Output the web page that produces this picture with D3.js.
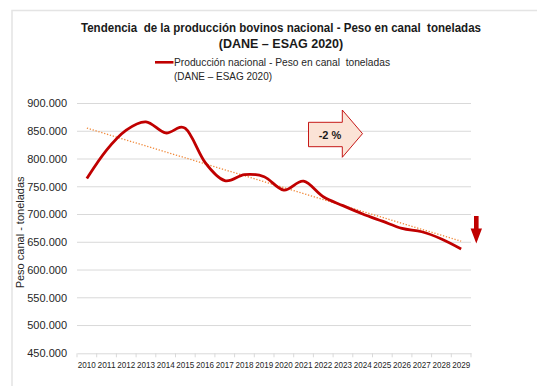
<!DOCTYPE html>
<html>
<head>
<meta charset="utf-8">
<script src="https://cdn.jsdelivr.net/npm/d3@7"></script>
<style>
  html, body { margin: 0; padding: 0; background: #fff; }
  svg { display: block; font-family: "Liberation Sans", Arial, sans-serif; }
  text { white-space: pre; }
</style>
</head>
<body>
<svg id="chart" width="537" height="386"></svg>
<script>
// Producción nacional de bovinos – peso en canal (toneladas)
const years = ["2010","2011","2012","2013","2014","2015","2016","2017","2018","2019",
               "2020","2021","2022","2023","2024","2025","2026","2027","2028","2029"];
const produccion = [765000, 816000, 852000, 867000, 847000, 855000, 794000, 761000, 772000, 768000,
                    744000, 760000, 732000, 716000, 701000, 688000, 675000, 669000, 656000, 638000];
const yTicks = [450000, 500000, 550000, 600000, 650000, 700000, 750000, 800000, 850000, 900000];
const titleLines = ["Tendencia  de la producción bovinos nacional - Peso en canal  toneladas",
                    "(DANE – ESAG 2020)"];
const legendLines = ["Producción nacional - Peso en canal  toneladas", "(DANE – ESAG 2020)"];
const yAxisTitle = "Peso canal - toneladas";
const variacion = "-2 %";

const svg = d3.select("#chart");
const margin = { left: 77, right: 471, top: 103.5, bottom: 353.3 };

const fmtTick = v => (v / 1000).toFixed(3).replace(/\B(?=(\d{3})+(?!\d))/g, ".");

const x = d3.scaleBand().domain(years).range([margin.left, margin.right]);
const y = d3.scaleLinear().domain([450000, 900000]).range([margin.bottom, margin.top]);

// Outer frame (top and left edges)
svg.append("path")
  .attr("d", "M12,386 L12,10.5 L537,10.5")
  .attr("fill", "none").attr("stroke", "#e4e4e4").attr("stroke-width", 1.5);

// Horizontal gridlines
svg.append("g").selectAll("line").data(yTicks.filter(t => t > 450000)).join("line")
  .attr("x1", margin.left).attr("x2", margin.right)
  .attr("y1", d => y(d)).attr("y2", d => y(d))
  .attr("stroke", "#d9d9d9").attr("stroke-width", 1);

// Y tick labels
svg.append("g").selectAll("text").data(yTicks).join("text")
  .attr("x", 67).attr("y", d => y(d)).attr("dy", "0.35em")
  .attr("text-anchor", "end").attr("font-size", 11).attr("fill", "#262626")
  .text(d => fmtTick(d));

// X axis: baseline, ticks between categories, labels
const xAxis = svg.append("g").attr("transform", `translate(0,${margin.bottom})`)
  .call(d3.axisBottom(x).tickSize(0).tickPadding(8));
xAxis.select(".domain").attr("stroke", "#d9d9d9");
xAxis.selectAll("text").attr("font-size", 9.5).attr("fill", "#262626")
  .attr("font-family", "'Liberation Sans', Arial, sans-serif")
  .attr("textLength", 18).attr("lengthAdjust", "spacingAndGlyphs");
const bounds = years.map(d => x(d)).concat([margin.right]);
svg.append("g").selectAll("line").data(bounds).join("line")
  .attr("x1", d => d).attr("x2", d => d)
  .attr("y1", margin.bottom).attr("y2", margin.bottom + 4)
  .attr("stroke", "#d9d9d9");

// Y axis title
svg.append("text")
  .attr("transform", `translate(24,${(margin.top + margin.bottom) / 2 + 4}) rotate(-90)`)
  .attr("text-anchor", "middle").attr("font-size", 11).attr("fill", "#262626")
  .text(yAxisTitle);

// Linear trendline (least squares over the series)
const idx = produccion.map((_, i) => i);
const mx = d3.mean(idx), my = d3.mean(produccion);
const slope = d3.sum(idx, i => (i - mx) * (produccion[i] - my)) / d3.sum(idx, i => (i - mx) ** 2);
const intercept = my - slope * mx;
const cx = i => x(years[i]) + x.bandwidth() / 2;
svg.append("line")
  .attr("x1", cx(0)).attr("y1", y(intercept))
  .attr("x2", cx(years.length - 1)).attr("y2", y(intercept + slope * (years.length - 1)))
  .attr("stroke", "#f08a3c").attr("stroke-width", 1.3).attr("stroke-dasharray", "1.3 1.7");

// Production series, smoothed
const line = d3.line()
  .x((d, i) => cx(i))
  .y(d => y(d))
  .curve(d3.curveCardinal.tension(0));
svg.append("path").datum(produccion)
  .attr("d", line)
  .attr("fill", "none").attr("stroke", "#c00000").attr("stroke-width", 2.8)
  .attr("stroke-linejoin", "round");

// Title
svg.append("g").selectAll("text").data(titleLines).join("text")
  .attr("x", 281).attr("y", (d, i) => 32 + i * 16)
  .attr("text-anchor", "middle").attr("font-size", 12.5).attr("font-weight", "bold")
  .attr("fill", "#1a1a1a")
  .each(function(d, i) { if (i === 0) d3.select(this).attr("textLength", 400).attr("lengthAdjust", "spacingAndGlyphs"); })
  .text(d => d);

// Legend
svg.append("line").attr("x1", 155).attr("x2", 173.5).attr("y1", 62.3).attr("y2", 62.3)
  .attr("stroke", "#c00000").attr("stroke-width", 2.6);
svg.append("g").selectAll("text").data(legendLines).join("text")
  .attr("x", 174).attr("y", (d, i) => 66 + i * 13.5)
  .attr("font-size", 10.5).attr("fill", "#262626")
  .each(function(d, i) { d3.select(this).attr("textLength", i === 0 ? 216 : 98).attr("lengthAdjust", "spacingAndGlyphs"); })
  .text(d => d);

// Block arrow with the variation label
const ax0 = 308.5, ax1 = 342.3, ax2 = 362.5, by0 = 122.3, by1 = 146.7, hy0 = 110, hy1 = 157.3;
svg.append("path")
  .attr("d", `M${ax0},${by0} L${ax1},${by0} L${ax1},${hy0} L${ax2},${(hy0 + hy1) / 2} L${ax1},${hy1} L${ax1},${by1} L${ax0},${by1} Z`)
  .attr("fill", "#fbe3d6").attr("stroke", "#c00000").attr("stroke-width", 0.9);
svg.append("text").attr("x", 330).attr("y", 138.5).attr("text-anchor", "middle")
  .attr("font-size", 11).attr("font-weight", "bold").attr("fill", "#1a1a1a")
  .text(variacion);

// Downward arrow marker
svg.append("path")
  .attr("d", "M474,216 L478.6,216 L478.6,228.5 L482,228.5 L476.3,243.5 L470.6,228.5 L474,228.5 Z")
  .attr("fill", "#c00000");
</script>
</body>
</html>
